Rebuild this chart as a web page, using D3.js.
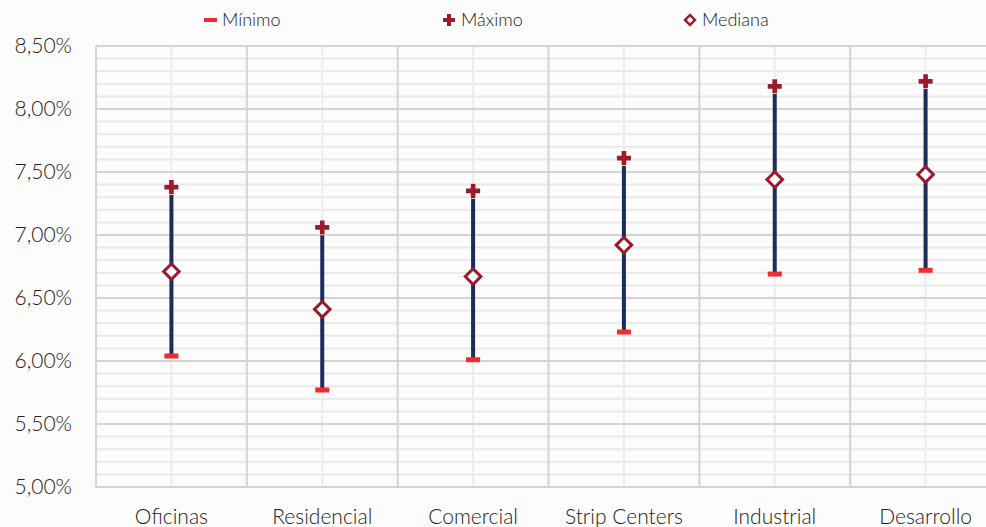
<!DOCTYPE html>
<html><head><meta charset="utf-8">
<script src="https://cdn.jsdelivr.net/npm/d3@7/dist/d3.min.js"></script>
<style>body{margin:0;background:#fcfcfc;}svg{display:block;font-family:Lato,"Open Sans",sans-serif;font-weight:300;}</style>
</head><body>
<svg id="c" width="986" height="527"></svg>
<script>
const categories = ["Oficinas","Residencial","Comercial","Strip Centers","Industrial","Desarrollo"];
const minimo  = [6.04, 5.77, 6.01, 6.23, 6.69, 6.72];
const maximo  = [7.38, 7.06, 7.35, 7.61, 8.18, 8.22];
const mediana = [6.71, 6.41, 6.67, 6.92, 7.44, 7.48];
const yTicks = [5.0, 5.5, 6.0, 6.5, 7.0, 7.5, 8.0, 8.5];
const legendItems = ["Mínimo","Máximo","Mediana"];

const svg = d3.select("#c");
const x = d3.scaleBand().domain(categories).range([96, 1001]).padding(0);
const y = d3.scaleLinear().domain([5, 8.5]).range([487, 46]);
const fmt = v => v.toFixed(2).replace(".", ",") + "%";
const FONT = "Lato, 'Open Sans', sans-serif";

// minor grid
const minor = d3.range(5.1, 8.5, 0.1).filter(v => Math.abs(v*2 - Math.round(v*2)) > 0.01);
svg.append("g").selectAll("line").data(minor).join("line")
  .attr("x1", 96).attr("x2", 1001).attr("y1", d => y(d)).attr("y2", d => y(d))
  .attr("stroke", "#e9e9e9").attr("stroke-width", 2);
// minor vertical at centers
svg.append("g").selectAll("line").data(categories).join("line")
  .attr("x1", d => x(d) + x.bandwidth()/2).attr("x2", d => x(d) + x.bandwidth()/2)
  .attr("y1", 46).attr("y2", 487).attr("stroke", "#ececec").attr("stroke-width", 2);
// major grid
svg.append("g").selectAll("line").data(yTicks).join("line")
  .attr("x1", 96).attr("x2", 1001).attr("y1", d => y(d)).attr("y2", d => y(d))
  .attr("stroke", "#d4d4d4").attr("stroke-width", 2);
svg.append("g").selectAll("line").data(categories).join("line")
  .attr("x1", d => x(d)).attr("x2", d => x(d))
  .attr("y1", 46).attr("y2", 487).attr("stroke", "#d4d4d4").attr("stroke-width", 2);

// y axis labels
const yAxis = d3.axisLeft(y).tickValues(yTicks).tickFormat(fmt).tickSize(0).tickPadding(24);
const ya = svg.append("g").attr("transform", "translate(96,0)").call(yAxis);
ya.select(".domain").remove();
ya.selectAll("text").attr("font-size", 21).attr("fill", "#222").attr("font-family", FONT).attr("font-weight", 300);

// x axis labels
const xAxis = d3.axisBottom(x).tickSize(0).tickPadding(22);
const xa = svg.append("g").attr("transform", "translate(0,487)").call(xAxis);
xa.select(".domain").remove();
xa.selectAll("text").attr("font-size", 21).attr("fill", "#222").attr("font-family", FONT).attr("font-weight", 300);

const cx = i => x(categories[i]) + x.bandwidth()/2;
const g = svg.append("g");
categories.forEach((c, i) => {
  g.append("line").attr("x1", cx(i)).attr("x2", cx(i))
    .attr("y1", y(minimo[i])).attr("y2", y(maximo[i]))
    .attr("stroke", "#1d2c5b").attr("stroke-width", 4);
  g.append("rect").attr("x", cx(i) - 7).attr("y", y(minimo[i]) - 2.5).attr("width", 14).attr("height", 5)
    .attr("fill", "#ef2b2d");
  g.append("path").attr("d", d3.symbol(d3.symbolCross, 110)())
    .attr("transform", `translate(${cx(i)},${y(maximo[i])})`)
    .attr("fill", "#9c1b2b").attr("stroke", "#fff").attr("stroke-width", 1.5).attr("paint-order", "stroke");
  g.append("rect").attr("x", -5.5).attr("y", -5.5).attr("width", 11).attr("height", 11)
    .attr("transform", `translate(${cx(i)},${y(mediana[i])}) rotate(45)`)
    .attr("fill", "#fff").attr("stroke", "#9c1b2b").attr("stroke-width", 3);
});

// legend
const lx = [204, 443, 684];
const lg = svg.append("g");
lg.append("rect").attr("x", lx[0]).attr("y", 18).attr("width", 13).attr("height", 4).attr("fill", "#ef2b2d");
lg.append("path").attr("d", d3.symbol(d3.symbolCross, 80)()).attr("transform", `translate(${lx[1]+6},20)`).attr("fill", "#9c1b2b");
lg.append("rect").attr("x", -3.5).attr("y", -3.5).attr("width", 7).attr("height", 7)
  .attr("transform", `translate(${lx[2]+6},20) rotate(45)`).attr("fill", "#fff").attr("stroke", "#9c1b2b").attr("stroke-width", 2.5);
lg.selectAll("text").data(legendItems).join("text")
  .attr("x", (d, i) => lx[i] + 18).attr("y", 26).attr("font-size", 18).attr("fill", "#222").attr("font-weight", 300).text(d => d);
</script>
</body></html>
